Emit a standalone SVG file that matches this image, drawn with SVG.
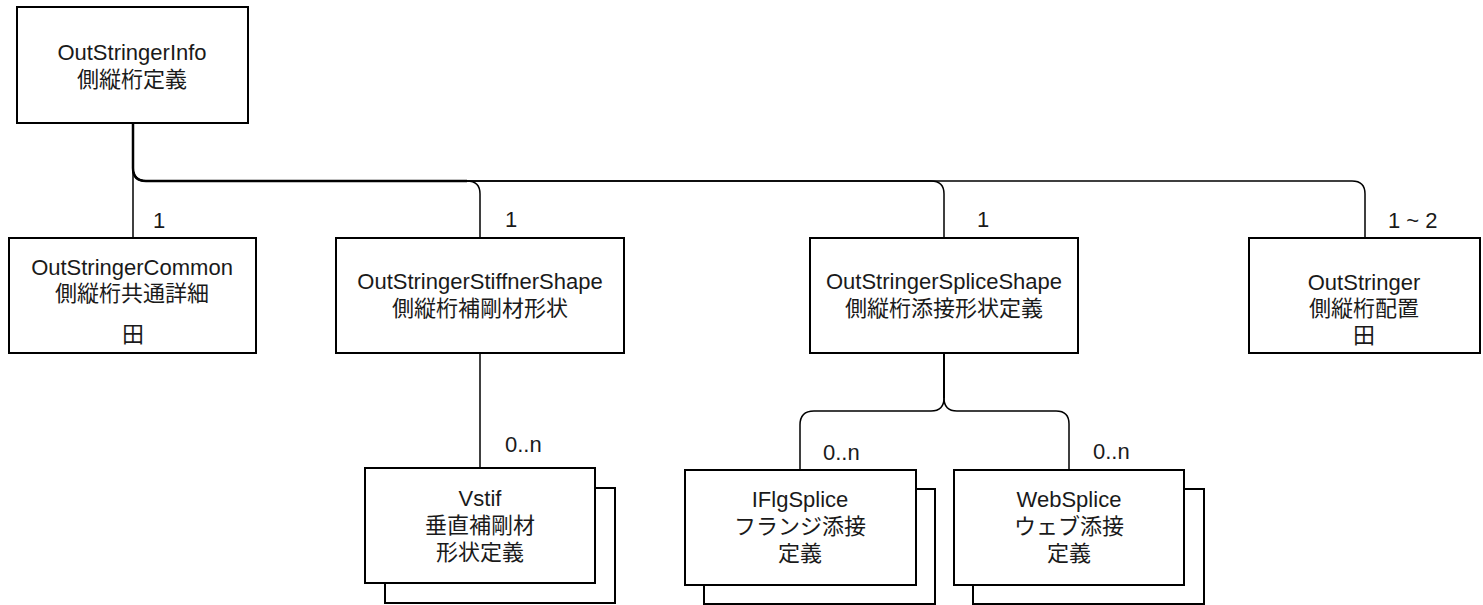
<svg xmlns="http://www.w3.org/2000/svg" width="1483" height="605" viewBox="0 0 1483 605">
<style>
.box{fill:#fff;stroke:#000;stroke-width:2}
.edge{fill:none;stroke:#000;stroke-width:1.5}
text{font-family:"Liberation Sans","Noto Sans CJK JP",sans-serif;font-size:22px;fill:#1a1a1a}
.c{text-anchor:middle}
</style>
<rect width="1483" height="605" fill="#fff"/>
<g id="connectors">
<path class="edge" d="M133 123 V238"/>
<path class="edge" d="M133 123 V168 Q133 181 146 181 H467 Q480 181 480 194 V238"/>
<path class="edge" d="M133 123 V168 Q133 181 146 181 H931 Q944 181 944 194 V238"/>
<path class="edge" d="M133 123 V168 Q133 181 146 181 H1352 Q1365 181 1365 194 V238"/>
<path class="edge" style="stroke-width:2.5" d="M133 123 V168 Q133 181 146 181 H467"/>
<path class="edge" d="M480 353 V468"/>
<path class="edge" d="M944 353 V398 Q944 411 931 411 H814 Q800 411 800 425 V470"/>
<path class="edge" d="M944 353 V398 Q944 411 957 411 H1056 Q1069 411 1069 424 V470"/>
<path class="edge" style="stroke-width:2" d="M944 353 V398"/>
<text x="153" y="228">1</text>
<text x="505" y="227">1</text>
<text x="977" y="227">1</text>
<text x="1388" y="228">1 ~ 2</text>
<text x="505" y="452">0..n</text>
<text x="823" y="460">0..n</text>
<text x="1093" y="459">0..n</text>
</g>
<g id="OutStringerInfo">
<rect class="box" x="17" y="7" width="231" height="116"/>
<text class="c" x="132" y="60">OutStringerInfo</text>
<text class="c" x="132" y="87">側縦桁定義</text>
</g>
<g id="OutStringerCommon">
<rect class="box" x="9" y="238" width="247" height="115"/>
<text class="c" x="132" y="275">OutStringerCommon</text>
<text class="c" x="132" y="301">側縦桁共通詳細</text>
<text class="c" x="133" y="342">田</text>
</g>
<g id="OutStringerStiffnerShape">
<rect class="box" x="336" y="238" width="288" height="115"/>
<text class="c" x="480" y="289">OutStringerStiffnerShape</text>
<text class="c" x="480" y="316">側縦桁補剛材形状</text>
</g>
<g id="OutStringerSpliceShape">
<rect class="box" x="810" y="238" width="268" height="115"/>
<text class="c" x="944" y="289">OutStringerSpliceShape</text>
<text class="c" x="944" y="316">側縦桁添接形状定義</text>
</g>
<g id="OutStringer">
<rect class="box" x="1249" y="238" width="231" height="115"/>
<text class="c" x="1364" y="290">OutStringer</text>
<text class="c" x="1364" y="316">側縦桁配置</text>
<text class="c" x="1364" y="343">田</text>
</g>
<g id="Vstif">
<rect class="box" x="385" y="488" width="230" height="115"/>
<rect class="box" x="365" y="468" width="230" height="115"/>
<text class="c" x="480" y="506">Vstif</text>
<text class="c" x="480" y="533">垂直補剛材</text>
<text class="c" x="480" y="560">形状定義</text>
</g>
<g id="IFlgSplice">
<rect class="box" x="704" y="489" width="231" height="115"/>
<rect class="box" x="685" y="470" width="231" height="115"/>
<text class="c" x="800" y="507">IFlgSplice</text>
<text class="c" x="800" y="534">フランジ添接</text>
<text class="c" x="800" y="561">定義</text>
</g>
<g id="WebSplice">
<rect class="box" x="973" y="489" width="231" height="115"/>
<rect class="box" x="954" y="470" width="230" height="115"/>
<text class="c" x="1069" y="507">WebSplice</text>
<text class="c" x="1069" y="534">ウェブ添接</text>
<text class="c" x="1069" y="561">定義</text>
</g>
</svg>
